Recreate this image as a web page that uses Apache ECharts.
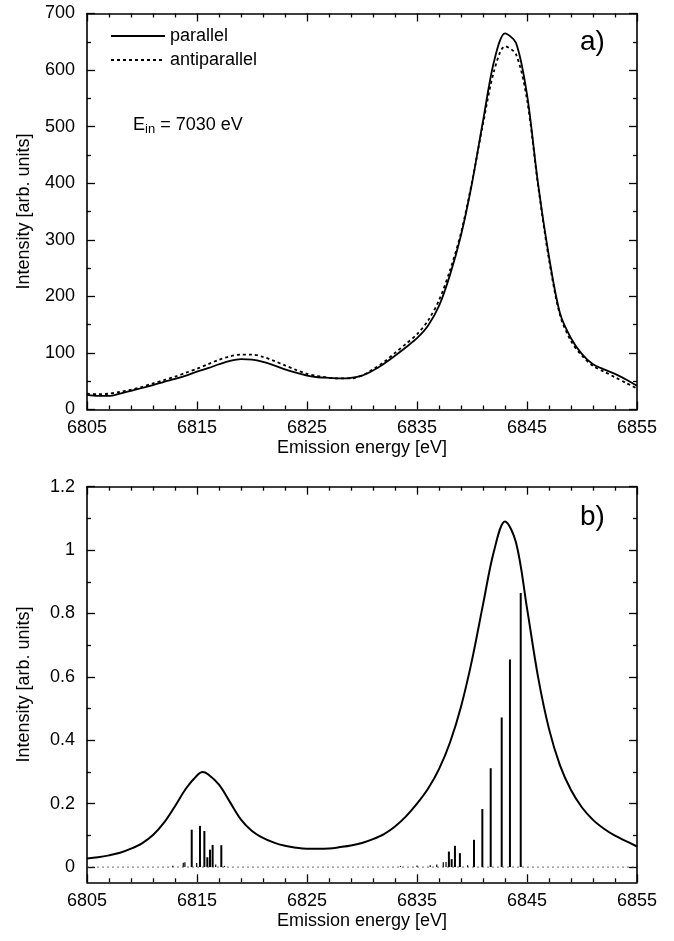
<!DOCTYPE html>
<html><head><meta charset="utf-8">
<script src="https://cdn.jsdelivr.net/npm/echarts@6/dist/echarts.min.js"></script>
<style>html,body{margin:0;padding:0;background:#fff}#c{width:674px;height:941px}</style>
</head><body><div id="c"></div>
<script>
// ---- data ----
const energy = [6805,6806,6807,6808,6809,6810,6811,6812,6813,6814,6815,6816,6817,6818,6819,6820,6821,6822,6823,6824,6825,6826,6827,6828,6829,6830,6831,6832,6833,6834,6835,6836,6837,6838,6839,6840,6841,6842,6843,6844,6845,6846,6847,6848,6849,6850,6851,6852,6853,6854,6855];
const parallel = [26,24,24,28,33,38,43,49,54,60,67,73,80,86,89,88,84,78,71,65,60,57,56,55,56,60,69,81,95,110,126,148,183,238,308,400,510,615,665,648,557,400,270,170,126,98,80,71,63,53,42];
const antiparallel = [28,27,28,31,35,40,46,52,58,65,72,80,88,94,97,97,93,86,78,70,63,59,56,55,55,60,71,84,100,116,133,157,193,246,312,402,505,598,642,628,548,397,265,167,121,95,77,67,57,47,37];
const energyB = [6805,6806,6807,6808,6809,6810,6811,6812,6813,6814,6815,6815.5,6816,6817,6818,6819,6820,6821,6822,6823,6824,6825,6826,6827,6828,6829,6830,6831,6832,6833,6834,6835,6836,6837,6838,6839,6840,6841,6842,6843,6844,6845,6846,6847,6848,6849,6850,6851,6852,6853,6854,6855];
const spectrumB = [0.027,0.031,0.037,0.045,0.058,0.075,0.101,0.140,0.192,0.248,0.289,0.300,0.293,0.260,0.205,0.150,0.114,0.092,0.077,0.067,0.061,0.058,0.058,0.059,0.063,0.068,0.076,0.088,0.104,0.128,0.160,0.200,0.247,0.309,0.393,0.506,0.653,0.828,0.997,1.090,1.024,0.817,0.601,0.436,0.321,0.243,0.188,0.149,0.121,0.099,0.082,0.065];
const stickEnergy = [6812.8,6813.75,6813.9,6814.52,6814.97,6815.27,6815.67,6815.94,6816.18,6816.42,6816.7,6817.21,6817.5,6833.5,6835.0,6836.2,6836.8,6837.39,6837.64,6837.9,6838.15,6838.45,6838.9,6839.6,6840.18,6840.94,6841.7,6842.7,6843.45,6844.43];
const stickHeight = [0.004,0.014,0.015,0.118,0.013,0.130,0.114,0.031,0.055,0.070,0.008,0.069,0.004,0.004,0.005,0.006,0.008,0.015,0.016,0.049,0.025,0.067,0.044,0.006,0.086,0.183,0.312,0.472,0.655,0.865];
const xMajorTicks = [6805,6815,6825,6835,6845,6855];
const xMinorTicks = [6807,6809,6811,6813,6817,6819,6821,6823,6827,6829,6831,6833,6837,6839,6841,6843,6847,6849,6851,6853];
const yMajorTicksA = [0,100,200,300,400,500,600,700];
const yMinorTicksA = [50,150,250,350,450,550,650];
const yMajorTicksB = [0,0.2,0.4,0.6,0.8,1,1.2];
const yMinorTicksB = [0.1,0.3,0.5,0.7,0.9,1.1];
const xName = 'Emission energy [eV]';
const yName = 'Intensity [arb. units]';
const legendNames = ['parallel','antiparallel'];

// ---- styling ----
const FONT = '"Liberation Sans", Arial, Helvetica, sans-serif';
const FS = 18;
const grids = [
  {left:87, right:37, top:13.5, height:396},
  {left:87, right:37, top:486.7, height:395.6}
];
const plain = v => String(v);

function xAx(grid, pos, ticks, len, withLabels, name){
  return {
    type:'value', gridIndex:grid, position:pos, min:6805, max:6855,
    axisLine:{show:len>5, onZero:false, lineStyle:{color:'#000', width:1.6}},
    axisTick:{show:true, inside:true, length:len, customValues:ticks, lineStyle:{color:'#000', width:1.3}},
    axisLabel:{show:withLabels, customValues:ticks, formatter:plain, color:'#000', fontSize:FS, fontFamily:FONT, margin:10},
    splitLine:{show:false},
    name: name||'', nameLocation:'middle', nameGap:30,
    nameTextStyle:{color:'#000', fontSize:FS, fontFamily:FONT}
  };
}
function yAx(grid, pos, ticks, len, withLabels, name, min, max){
  return {
    type:'value', gridIndex:grid, position:pos, min:min, max:max,
    axisLine:{show:len>5, onZero:false, lineStyle:{color:'#000', width:1.6}},
    axisTick:{show:true, inside:true, length:len, customValues:ticks, lineStyle:{color:'#000', width:1.3}},
    axisLabel:{show:withLabels, customValues:ticks, formatter:plain, color:'#000', fontSize:FS, fontFamily:FONT, margin:12},
    splitLine:{show:false},
    name: name||'', nameLocation:'middle', nameGap:54, nameRotate:90,
    nameTextStyle:{color:'#000', fontSize:FS, fontFamily:FONT}
  };
}

const xAxes = [], yAxes = [];
[0,1].forEach(g=>{
  xAxes.push(xAx(g,'bottom',xMajorTicks,8,true,xName));
  xAxes.push(xAx(g,'bottom',xMinorTicks,4,false));
  xAxes.push(xAx(g,'top',xMajorTicks,8,false));
  xAxes.push(xAx(g,'top',xMinorTicks,4,false));
});
yAxes.push(yAx(0,'left',yMajorTicksA,8,true,yName,0,700));
yAxes.push(yAx(0,'left',yMinorTicksA,4,false,'',0,700));
yAxes.push(yAx(0,'right',yMajorTicksA,8,false,'',0,700));
yAxes.push(yAx(0,'right',yMinorTicksA,4,false,'',0,700));
yAxes.push(yAx(1,'left',yMajorTicksB,8,true,yName,-0.048,1.2));
yAxes.push(yAx(1,'left',yMinorTicksB,4,false,'',-0.048,1.2));
yAxes.push(yAx(1,'right',yMajorTicksB,8,false,'',-0.048,1.2));
yAxes.push(yAx(1,'right',yMinorTicksB,4,false,'',-0.048,1.2));

const pairs = (xs, ys) => xs.map((x,i)=>[x, ys[i]]);

const option = {
  animation:false,
  backgroundColor:'#fff',
  grid: grids,
  xAxis: xAxes,
  yAxis: yAxes,
  legend:{
    data: legendNames, orient:'vertical', left:105, top:22,
    itemWidth:54, itemHeight:12, itemGap:6,
    itemStyle:{opacity:0},
    textStyle:{color:'#000', fontSize:FS, fontFamily:FONT}
  },
  graphic:[
    {type:'text', left:580, top:28, style:{text:'a)', fontSize:28, fontFamily:FONT, fill:'#000'}},
    {type:'text', left:580, top:503, style:{text:'b)', fontSize:28, fontFamily:FONT, fill:'#000'}},
    {type:'text', left:133, top:116, style:{
      text:'{e|E}{s|in}{e| = 7030 eV}', fontFamily:FONT, fill:'#000',
      rich:{e:{fontSize:FS, fontFamily:FONT, fill:'#000'}, s:{fontSize:13, fontFamily:FONT, fill:'#000', padding:[9,0,0,0]}}
    }}
  ],
  series:[
    {name:'parallel', type:'line', xAxisIndex:0, yAxisIndex:0, data:pairs(energy,parallel),
     symbol:'none', showSymbol:false, smooth:0.3, lineStyle:{color:'#000', width:1.8}, itemStyle:{color:'#000'}},
    {name:'antiparallel', type:'line', xAxisIndex:0, yAxisIndex:0, data:pairs(energy,antiparallel),
     symbol:'none', showSymbol:false, smooth:0.3, lineStyle:{color:'#000', width:1.8, type:[3,3]}, itemStyle:{color:'#000'}},
    {name:'spectrum', type:'line', xAxisIndex:4, yAxisIndex:4, data:pairs(energyB,spectrumB),
     symbol:'none', smooth:0.35, lineStyle:{color:'#000', width:2}},
    {name:'baseline', type:'line', xAxisIndex:4, yAxisIndex:4, data:[[6805,0],[6855,0]],
     symbol:'none', lineStyle:{color:'#444', width:0.8, type:[2,3]}},
    {name:'sticks', type:'custom', coordinateSystem:'cartesian2d', xAxisIndex:4, yAxisIndex:4,
     data:pairs(stickEnergy,stickHeight), encode:{x:0,y:1},
     renderItem:function(params, api){
       const x = api.value(0), v = api.value(1);
       const p0 = api.coord([x,0]), p1 = api.coord([x,v]);
       return {type:'line', shape:{x1:p0[0],y1:p0[1],x2:p1[0],y2:p1[1]},
               style:{stroke:'#000', lineWidth: v>0.02 ? 2 : 1.2}};
     }}
  ]
};
const chart = echarts.init(document.getElementById('c'), null, {renderer:'canvas'});
chart.setOption(option);
</script>
</body></html>
